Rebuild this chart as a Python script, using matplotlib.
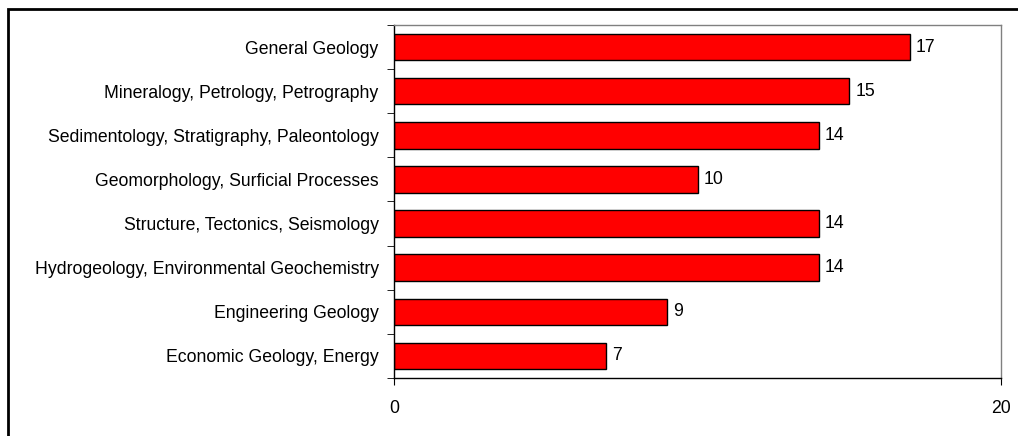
import numpy as np
import matplotlib
matplotlib.use("Agg")
import matplotlib.pyplot as plt
import matplotlib.patches as patches

plt.rcParams['font.family'] = ['Liberation Sans', 'DejaVu Sans']

# categories, top to bottom as in the chart
categories = [
    "General Geology",
    "Mineralogy, Petrology, Petrography",
    "Sedimentology, Stratigraphy, Paleontology",
    "Geomorphology, Surficial Processes",
    "Structure, Tectonics, Seismology",
    "Hydrogeology, Environmental Geochemistry",
    "Engineering Geology",
    "Economic Geology, Energy",
]
counts = [17, 15, 14, 10, 14, 14, 9, 7]
x_ticks = [0, 20]

fs = 12.7

fig = plt.figure(figsize=(10.18, 4.36), dpi=100)
ax = fig.add_axes([394 / 1018, 1 - 378 / 436, (1001 - 394) / 1018, (378 - 25) / 436])

n = len(categories)
ypos = np.arange(n)[::-1]
ax.barh(ypos, counts, height=0.6, color='#ff0000', edgecolor='black', linewidth=1.0)

for y, v in zip(ypos, counts):
    ax.text(v + 0.2, y, str(v), va='center', ha='left', fontsize=fs)

ax.set_xlim(0, 20)
ax.set_ylim(-0.5, n - 0.5)
ax.set_xticks(x_ticks)
ax.set_xticklabels([str(t) for t in x_ticks], fontsize=fs)
ax.tick_params(axis='x', direction='out', length=5, pad=11)

ax.set_yticks(ypos)
ax.set_yticklabels(categories, fontsize=fs)
ax.set_yticks(np.arange(-0.5, n, 1.0), minor=True)
ax.tick_params(axis='y', which='major', length=0, pad=11)
ax.tick_params(axis='y', which='minor', direction='out', length=5)

ax.spines['top'].set_color('#808080')
ax.spines['right'].set_color('#808080')
for s in ax.spines.values():
    s.set_linewidth(1.0)

# outer chart border (left and top visible)
border = patches.Rectangle((8 / 1018, -0.1), 1.2, 1 - 9 / 436 + 0.1,
                           transform=fig.transFigure, fill=False,
                           edgecolor='black', linewidth=2)
fig.patches.append(border)

fig.savefig("out.png", dpi=100)
